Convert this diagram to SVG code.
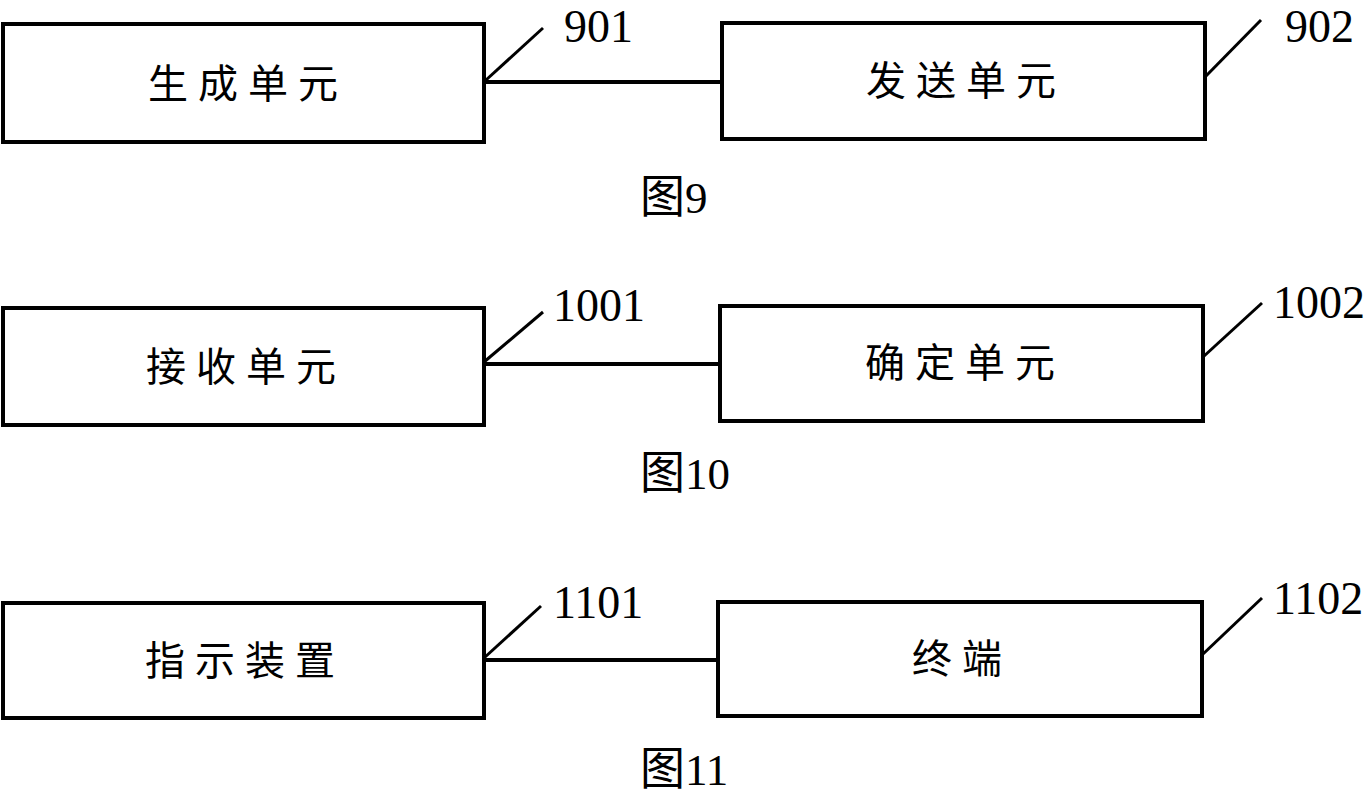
<svg xmlns="http://www.w3.org/2000/svg" width="1372" height="797" viewBox="0 0 1372 797">
<style>
.box{fill:#fff;stroke:#000;stroke-width:4}
.ln{stroke:#000;stroke-width:4;fill:none}
.lead{stroke:#000;stroke-width:3;fill:none}
.t{font-family:"Noto Sans CJK SC","Noto Sans CJK JP",sans-serif;font-size:40px;letter-spacing:10px;text-anchor:middle;fill:#000}
.num{font-family:"Liberation Serif",serif;font-size:46px;fill:#000}
.cap{font-family:"Liberation Serif","Noto Sans CJK SC",serif;font-size:45px;fill:#000}
</style>
<rect width="1372" height="797" fill="#fff"/>
<g id="connectors">
<line class="ln" x1="484" y1="82" x2="722" y2="82"/>
<line class="ln" x1="484" y1="364" x2="720" y2="364"/>
<line class="ln" x1="484" y1="660" x2="718" y2="660"/>
<line class="lead" x1="486" y1="80" x2="543" y2="28"/>
<line class="lead" x1="1205" y1="77" x2="1261" y2="20"/>
<line class="lead" x1="484" y1="362" x2="543" y2="312"/>
<line class="lead" x1="1203" y1="357" x2="1262" y2="303"/>
<line class="lead" x1="484" y1="658" x2="541" y2="606"/>
<line class="lead" x1="1202" y1="655" x2="1262" y2="598"/>
</g>
<g id="n901"><rect class="box" x="3" y="24" width="481" height="118"/><text class="t" x="248" y="98">生成单元</text></g>
<g id="n902"><rect class="box" x="722" y="23" width="483" height="116"/><text class="t" x="966" y="95">发送单元</text></g>
<g id="n1001"><rect class="box" x="3" y="308" width="481" height="117"/><text class="t" x="246" y="381">接收单元</text></g>
<g id="n1002"><rect class="box" x="720" y="306" width="483" height="115"/><text class="t" x="965" y="377">确定单元</text></g>
<g id="n1101"><rect class="box" x="3" y="603" width="481" height="115"/><text class="t" x="245" y="675">指示装置</text></g>
<g id="n1102"><rect class="box" x="718" y="602" width="484" height="114"/><text class="t" x="962" y="673">终端</text></g>
<g id="labels">
<text class="num" x="564" y="42">901</text>
<text class="num" x="1285" y="42">902</text>
<text class="num" x="553" y="321">1001</text>
<text class="num" x="1273" y="318">1002</text>
<text class="num" x="553" y="618">1101</text>
<text class="num" x="1273" y="614">1102</text>
<text class="cap" x="640" y="213">图9</text>
<text class="cap" x="640" y="489">图10</text>
<text class="cap" x="640" y="785">图11</text>
</g>
</svg>
